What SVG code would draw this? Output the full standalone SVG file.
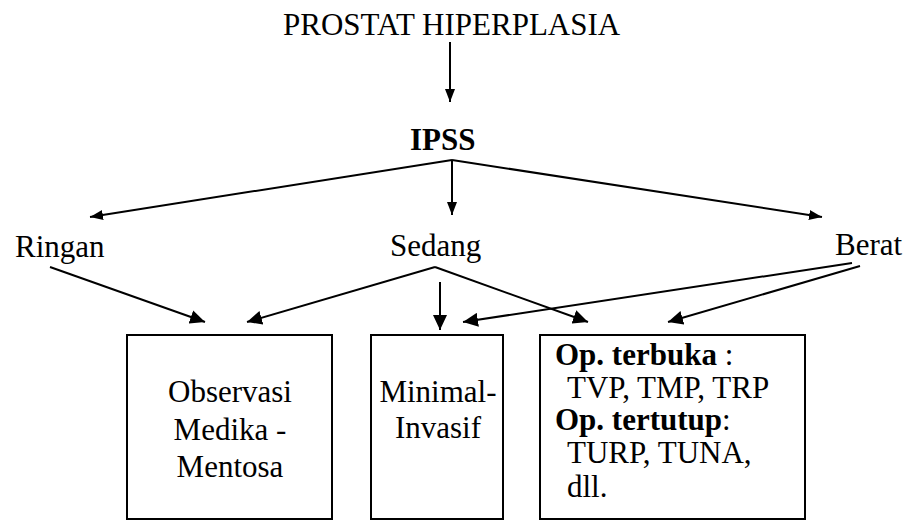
<svg xmlns="http://www.w3.org/2000/svg" width="907" height="520" viewBox="0 0 907 520">
<style>
text{font-family:"Liberation Serif","Times New Roman",serif;fill:#000;font-size:31px}
.b{font-weight:bold}
.box{fill:#fff;stroke:#000;stroke-width:2}
.c{stroke:#000;stroke-width:2;fill:none}
</style>
<defs>
<marker id="ah" markerUnits="userSpaceOnUse" markerWidth="16" markerHeight="14" refX="15" refY="7" orient="auto"><path d="M0,0 L15,7 L0,14 z" fill="#000"/></marker>
<marker id="as" markerUnits="userSpaceOnUse" markerWidth="14" markerHeight="10" refX="13" refY="5" orient="auto"><path d="M0,0 L13,5 L0,10 z" fill="#000"/></marker>
</defs>
<rect width="907" height="520" fill="#fff"/>
<g id="connectors">
<line class="c" x1="450" y1="42" x2="450" y2="102" marker-end="url(#as)"/>
<line class="c" x1="452" y1="160" x2="452" y2="215" marker-end="url(#as)"/>
<line class="c" x1="452" y1="160" x2="90" y2="217" marker-end="url(#as)"/>
<line class="c" x1="452" y1="160" x2="822" y2="217" marker-end="url(#as)"/>
<line class="c" x1="50" y1="267" x2="205" y2="322" marker-end="url(#ah)"/>
<line class="c" x1="435" y1="267" x2="247" y2="322" marker-end="url(#ah)"/>
<line class="c" x1="440" y1="282" x2="440" y2="330" marker-end="url(#ah)"/>
<line class="c" x1="435" y1="267" x2="588" y2="322" marker-end="url(#ah)"/>
<line class="c" x1="852" y1="263" x2="463" y2="322" marker-end="url(#ah)"/>
<line class="c" x1="860" y1="266" x2="668" y2="322" marker-end="url(#ah)"/>
</g>
<g id="title"><text x="283" y="35" font-size="32">PROSTAT HIPERPLASIA</text></g>
<g id="ipss"><text class="b" x="410" y="150">IPSS</text></g>
<g id="ringan"><text x="15" y="257">Ringan</text></g>
<g id="sedang"><text x="390" y="256">Sedang</text></g>
<g id="berat"><text x="835" y="255">Berat</text></g>
<g id="observasi">
<rect class="box" x="127" y="335" width="205" height="184"/>
<text x="230" y="402" text-anchor="middle">Observasi</text>
<text x="230" y="440" text-anchor="middle">Medika -</text>
<text x="230" y="477" text-anchor="middle">Mentosa</text>
</g>
<g id="minimal">
<rect class="box" x="371" y="335" width="132" height="184"/>
<text x="438" y="402" text-anchor="middle">Minimal-</text>
<text x="438" y="438" text-anchor="middle">Invasif</text>
</g>
<g id="operasi">
<rect class="box" x="540" y="335" width="265" height="184"/>
<text x="555" y="365"><tspan class="b">Op. terbuka</tspan> :</text>
<text x="567" y="398">TVP, TMP, TRP</text>
<text x="555" y="430"><tspan class="b">Op. tertutup</tspan>:</text>
<text x="567" y="463">TURP, TUNA,</text>
<text x="567" y="497">dll.</text>
</g>
</svg>
